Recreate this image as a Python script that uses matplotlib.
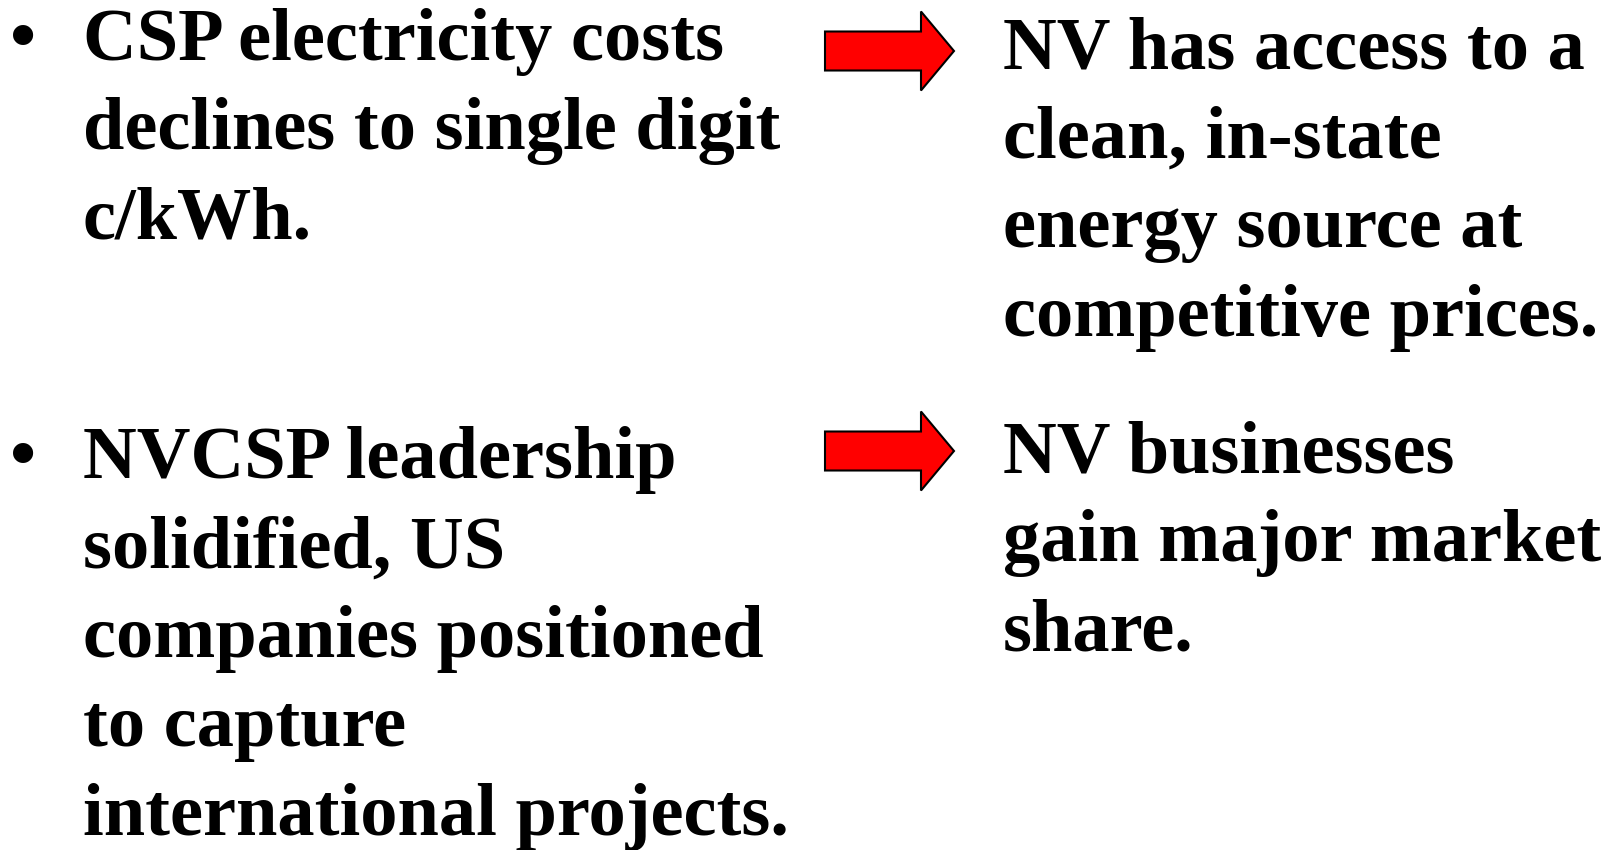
import matplotlib
matplotlib.use("Agg")
import matplotlib.pyplot as plt
from matplotlib.patches import Polygon

# slide text, one list entry per line
left_1 = ["CSP electricity costs", "declines to single digit", "c/kWh."]
right_1 = ["NV has access to a", "clean, in-state", "energy source at", "competitive prices."]
left_2 = ["NVCSP leadership", "solidified, US", "companies positioned",
          "to capture", "international projects."]
right_2 = ["NV businesses", "gain major market", "share."]

W, H = 1615, 850
fig = plt.figure(figsize=(W / 100, H / 100), dpi=100)
ax = fig.add_axes([0, 0, 1, 1])
ax.set_xlim(0, W)
ax.set_ylim(H, 0)
ax.axis("off")

font = dict(family="Liberation Serif", fontweight="bold", fontsize=53.6, color="black")
step = 89.3

def block(lines, x, y0):
    for i, s in enumerate(lines):
        ax.text(x, y0 + i * step, s, va="baseline", ha="left", **font)

def bullet(y):
    ax.text(23, y, "\u2022", va="baseline", ha="center", **font)

def arrow(yc):
    # block arrow: shaft 825-921, head to 954
    x0, xb, xt = 825, 921, 954
    sh, hh = 19.5, 39.5
    pts = [(x0, yc - sh), (xb, yc - sh), (xb, yc - hh), (xt, yc),
           (xb, yc + hh), (xb, yc + sh), (x0, yc + sh)]
    ax.add_patch(Polygon(pts, closed=True, facecolor="#ff0000",
                         edgecolor="black", linewidth=1.5, joinstyle="miter"))

bullet(60)
block(left_1, 83, 60)
arrow(51)
block(right_1, 1003, 68)

bullet(478)
block(left_2, 83, 478)
arrow(451)
block(right_2, 1003, 472)

fig.savefig("out.png", dpi=100)
